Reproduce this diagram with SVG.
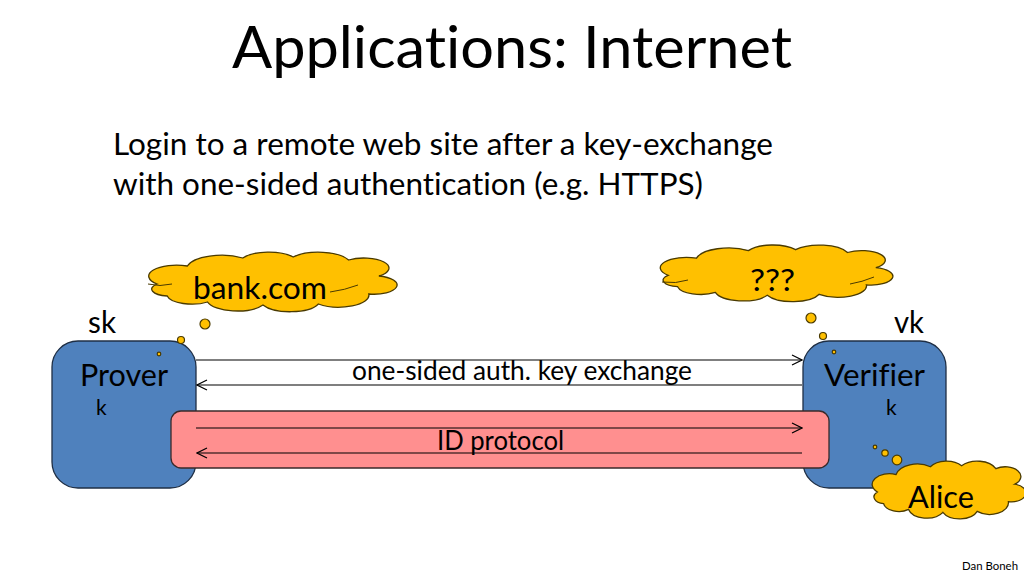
<svg xmlns="http://www.w3.org/2000/svg" xmlns:xlink="http://www.w3.org/1999/xlink" width="1024" height="576" viewBox="0 0 1024 576">
<style>
text{font-family:Lato,"Open Sans","Liberation Sans",sans-serif;fill:#000;font-variant-ligatures:none}
.title{font-size:58px}
.body{font-size:30px}
.lbl{font-size:30px}
.small{font-size:21px}
.mid{font-size:26px}
.box{fill:#4F81BD;stroke:#1f2f45;stroke-width:1.3}
.pink{fill:#FF8F8F;stroke:#3a2a2a;stroke-width:1.3}
.cloud{fill:#FFC000;stroke:#4a3a00;stroke-width:1.3}
.dot{fill:#FFC000;stroke:#4a3a00;stroke-width:1.2}
.conn{stroke:#000;stroke-width:1.2;fill:none}
.conn2{stroke:#555;stroke-width:1.5;fill:none}
</style>
<defs>
<marker id="open" viewBox="0 0 12 12" refX="11" refY="6" markerWidth="12" markerHeight="12" markerUnits="userSpaceOnUse" orient="auto">
<path d="M1,1 L11,6 L1,11" fill="none" stroke="#000" stroke-width="1.2"/>
</marker>
<path id="cloudShape" vector-effect="non-scaling-stroke" d="M6,34 A11 11 0 0 1 18,16 A14 14 0 0 1 40,8 A12 12 0 0 1 60,7 A13 13 0 0 1 82,10 A10 10 0 0 1 94,26 A9 9 0 0 1 90,44 A12 12 0 0 1 70,54 A12 12 0 0 1 48,55 A12 12 0 0 1 26,52 A10 10 0 0 1 10,46 A7 7 0 0 1 6,34 Z"/>
</defs>
<rect width="1024" height="576" fill="#fff"/>
<text class="title" x="232" y="68" textLength="560" lengthAdjust="spacingAndGlyphs">Applications:  Internet</text>
<text class="body" x="113" y="155" textLength="660" lengthAdjust="spacingAndGlyphs">Login to a remote web site after a key-exchange</text>
<text class="body" x="113" y="195" textLength="590" lengthAdjust="spacingAndGlyphs">with one-sided authentication (e.g. HTTPS)</text>

<g id="prover">
<rect class="box" x="52" y="341" width="144" height="147" rx="26"/>
<text class="lbl" x="80" y="386" textLength="88" lengthAdjust="spacingAndGlyphs">Prover</text>
<text class="small" x="96" y="415">k</text>
<text class="lbl" x="88" y="333" textLength="28" lengthAdjust="spacingAndGlyphs">sk</text>
</g>
<g id="verifier">
<rect class="box" x="803" y="341" width="143" height="147" rx="26"/>
<text class="lbl" x="824" y="386" textLength="101" lengthAdjust="spacingAndGlyphs">Verifier</text>
<text class="small" x="886" y="415">k</text>
<text class="lbl" x="894" y="333" textLength="30" lengthAdjust="spacingAndGlyphs">vk</text>
</g>
<g id="id-protocol">
<rect class="pink" x="171" y="411" width="658" height="57" rx="10"/>
<text class="mid" x="437" y="450" textLength="127" lengthAdjust="spacingAndGlyphs">ID protocol</text>
</g>
<g id="cloud-bank">
<use xlink:href="#cloudShape" class="cloud" transform="translate(142,250) scale(2.52,1.0)"/>
<path d="M148,284 Q160,287 172,284 M330,292 Q345,290 358,285" fill="none" stroke="#4a3a00" stroke-width="1"/>
<text class="lbl" x="193" y="299" textLength="134" lengthAdjust="spacingAndGlyphs">bank.com</text>
<circle class="dot" cx="205" cy="324" r="5"/>
<circle class="dot" cx="181" cy="340" r="3.5"/>
<circle class="dot" cx="159" cy="354" r="1.8"/>
</g>
<g id="cloud-q">
<use xlink:href="#cloudShape" class="cloud" transform="translate(654,243) scale(2.36,0.95)"/>
<path d="M662,282 Q676,284 688,280 M850,284 Q862,282 874,277" fill="none" stroke="#4a3a00" stroke-width="1"/>
<text class="lbl" x="750" y="291" textLength="45" lengthAdjust="spacingAndGlyphs">???</text>
<circle class="dot" cx="811" cy="318" r="5"/>
<circle class="dot" cx="823" cy="336" r="3.5"/>
<circle class="dot" cx="834" cy="352" r="1.8"/>
</g>
<g id="cloud-alice">
<circle class="dot" cx="875" cy="447" r="1.8"/>
<circle class="dot" cx="885" cy="453" r="3.2"/>
<circle class="dot" cx="897" cy="460" r="4.8"/>
<use xlink:href="#cloudShape" class="cloud" transform="translate(868,459) scale(1.56,0.97)"/>
<text class="lbl" x="908" y="508" textLength="66" lengthAdjust="spacingAndGlyphs">Alice</text>
</g>
<g id="connectors">
<line class="conn" x1="196" y1="360" x2="802" y2="360" marker-end="url(#open)"/>
<line class="conn2" x1="802" y1="385" x2="197" y2="385" marker-end="url(#open)"/>
<line class="conn" x1="196" y1="428" x2="802" y2="428" marker-end="url(#open)"/>
<line class="conn" x1="802" y1="453" x2="197" y2="453" marker-end="url(#open)"/>
</g>
<text class="mid" x="352" y="380" textLength="340" lengthAdjust="spacingAndGlyphs">one-sided auth. key exchange</text>
<text x="962" y="570" textLength="56" lengthAdjust="spacingAndGlyphs" style="font-size:11px">Dan Boneh</text>
</svg>
